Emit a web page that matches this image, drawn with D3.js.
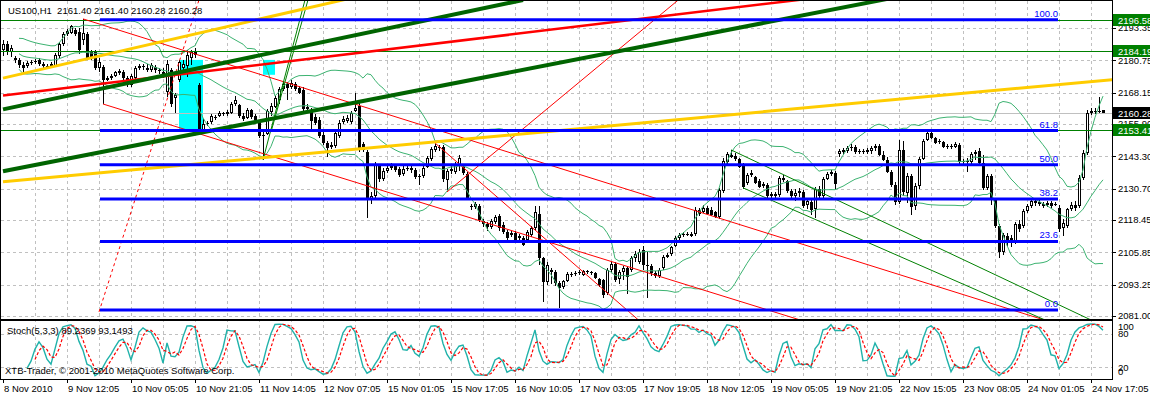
<!DOCTYPE html>
<html>
<head>
<meta charset="utf-8">
<script src="https://cdn.jsdelivr.net/npm/d3@7"></script>
<style>
body { margin: 0; background: #fff; }
svg { display: block; font-family: "Liberation Sans", Arial, sans-serif; font-size: 9.5px; }
</style>
</head>
<body>
<script>
// US100,H1 candles, one per hour, oldest first
var open = [
 2184.8,2187.1,2184.0,2181.7,2180.9,2178.9,2178.6,2179.7,2180.1,2180.9,
 2179.3,2178.6,2178.6,2178.6,2182.5,2187.1,2191.0,2191.4,2192.6,2191.8,
 2188.7,2191.0,2184.0,2184.0,2177.8,2178.2,2173.1,2173.9,2174.7,2175.8,
 2176.2,2173.9,2171.1,2173.9,2177.8,2178.6,2177.8,2177.0,2178.2,2177.0,
 2176.2,2168.4,2177.0,2166.1,2173.1,2177.8,2178.6,2181.7,2184.0,2171.1,
 2153.6,2155.9,2156.7,2158.7,2159.1,2160.2,2159.8,2160.2,2163.7,2163.3,
 2159.1,2158.3,2161.4,2159.1,2157.1,2151.3,2152.0,2160.6,2162.6,2165.3,
 2169.6,2171.5,2170.4,2171.5,2170.0,2169.2,2161.8,2161.4,2158.7,2157.5,
 2151.7,2148.5,2147.0,2147.4,2151.3,2156.7,2157.1,2156.7,2161.0,2162.9,
 2148.1,2145.0,2126.3,2127.9,2139.6,2134.5,2137.6,2138.8,2139.6,2138.4,
 2136.5,2138.4,2138.8,2138.0,2135.3,2135.7,2139.2,2142.3,2145.8,2147.0,
 2147.0,2134.1,2137.6,2137.2,2139.9,2139.2,2136.5,2124.0,2123.6,2124.0,
 2118.1,2116.9,2115.8,2117.7,2120.0,2116.6,2113.8,2112.7,2113.4,2111.5,
 2111.5,2110.7,2112.7,2115.4,2120.8,2103.7,2094.3,2099.0,2098.2,2093.9,
 2092.4,2094.7,2097.0,2097.4,2097.8,2097.0,2098.6,2098.2,2097.8,2095.5,
 2095.1,2090.0,2099.0,2101.3,2095.5,2098.2,2099.8,2099.0,2103.7,2102.1,
 2106.8,2101.0,2100.6,2097.8,2096.7,2099.8,2104.1,2105.2,2108.4,2111.5,
 2112.7,2113.0,2113.0,2113.0,2122.4,2121.6,2123.2,2122.4,2121.6,2119.7,
 2129.8,2141.1,2143.9,2143.5,2142.3,2140.0,2132.9,2136.1,2135.3,2133.7,
 2131.8,2132.2,2127.9,2128.6,2128.2,2134.9,2133.7,2129.8,2127.9,2129.0,
 2129.4,2124.3,2125.5,2122.8,2130.6,2127.9,2134.5,2136.5,2136.8,2144.2,
 2145.0,2145.4,2146.6,2147.0,2145.0,2145.4,2145.0,2145.4,2146.6,2147.4,
 2143.9,2141.9,2137.2,2132.2,2125.5,2145.8,2129.0,2135.7,2124.0,2131.8,
 2142.3,2149.7,2152.4,2150.5,2148.9,2148.9,2147.0,2147.4,2147.0,2147.7,
 2141.1,2141.5,2141.1,2144.2,2145.4,2140.7,2131.0,2135.7,2126.3,2116.2,
 2106.0,2112.3,2111.5,2109.9,2116.9,2116.2,2122.0,2123.9,2125.9,2125.5,
 2124.7,2124.3,2125.1,2124.3,2123.2,2115.4,2116.2,2122.8,2124.3,2124.0,
 2134.9,2144.6,2160.2,2161.0,2160.6,2161.40
]
var high = [
 2188.7,2188.3,2186.7,2182.5,2181.7,2180.1,2180.5,2180.9,2181.3,2181.7,
 2180.1,2179.3,2180.1,2183.6,2187.9,2191.8,2193.0,2194.6,2193.4,2193.4,
 2196.9,2191.8,2184.8,2184.8,2181.7,2178.9,2174.7,2175.4,2176.6,2177.4,
 2177.0,2174.7,2175.4,2178.6,2179.3,2179.3,2179.3,2179.7,2178.9,2177.8,
 2177.8,2180.9,2177.8,2168.0,2180.9,2180.9,2184.8,2184.8,2185.6,2171.9,
 2157.9,2157.1,2159.8,2159.5,2161.0,2160.6,2161.4,2164.5,2166.9,2163.7,
 2160.2,2162.2,2161.8,2159.8,2157.5,2152.8,2161.8,2164.1,2166.9,2170.4,
 2172.7,2172.3,2173.1,2172.3,2170.8,2170.4,2163.7,2162.2,2159.8,2158.7,
 2152.8,2149.3,2148.9,2153.2,2157.5,2159.1,2159.5,2161.0,2168.0,2164.1,
 2148.9,2145.8,2129.4,2141.1,2140.0,2138.8,2140.0,2140.7,2140.3,2139.2,
 2139.6,2139.6,2139.6,2138.8,2136.5,2139.6,2143.5,2147.0,2148.5,2147.8,
 2147.8,2138.4,2139.6,2141.1,2143.9,2139.9,2137.2,2124.7,2125.5,2124.7,
 2118.9,2117.7,2118.9,2120.4,2120.8,2117.7,2114.6,2114.2,2114.2,2113.0,
 2112.3,2114.6,2116.2,2124.0,2124.0,2104.1,2102.1,2099.8,2099.0,2094.7,
 2095.1,2098.2,2098.2,2098.6,2099.0,2099.0,2099.0,2098.6,2098.2,2095.9,
 2095.5,2099.8,2102.1,2102.1,2099.0,2100.6,2100.6,2104.5,2106.4,2107.2,
 2108.4,2106.0,2101.3,2098.6,2099.8,2104.9,2105.6,2108.4,2112.3,2113.4,
 2113.8,2113.8,2113.8,2123.6,2123.2,2124.3,2124.0,2123.6,2122.0,2131.0,
 2142.7,2145.0,2145.8,2144.6,2142.7,2140.7,2136.8,2138.0,2135.7,2134.5,
 2133.3,2132.9,2129.4,2129.4,2135.7,2136.1,2134.1,2130.6,2130.6,2131.0,
 2130.2,2126.7,2126.3,2131.4,2131.8,2135.3,2137.2,2138.0,2137.6,2146.2,
 2146.6,2147.4,2148.1,2147.8,2146.2,2146.2,2146.6,2147.4,2148.1,2148.1,
 2145.4,2143.1,2138.0,2133.3,2149.7,2149.3,2136.8,2136.5,2132.9,2143.1,
 2150.1,2154.0,2153.2,2150.9,2150.1,2149.3,2148.1,2148.1,2148.9,2148.5,
 2142.3,2142.7,2145.0,2145.8,2146.6,2143.9,2136.5,2136.5,2127.1,2116.9,
 2113.4,2113.4,2112.7,2117.7,2118.5,2122.8,2124.7,2126.7,2126.7,2126.3,
 2125.5,2125.9,2125.9,2125.5,2124.3,2118.9,2123.0,2125.5,2125.9,2136.1,
 2145.8,2161.4,2162.2,2162.2,2166.5,2161.40
]
var low = [
 2182.5,2182.8,2182.1,2179.7,2177.8,2176.2,2177.8,2178.9,2179.3,2178.6,
 2177.8,2177.8,2178.2,2178.2,2181.7,2186.4,2190.3,2191.0,2190.3,2183.2,
 2186.7,2180.9,2180.9,2177.0,2176.2,2163.7,2172.7,2173.1,2174.3,2175.0,
 2173.1,2170.4,2170.4,2173.5,2177.0,2177.0,2176.2,2176.2,2175.8,2175.4,
 2173.9,2166.5,2162.6,2160.2,2172.3,2177.0,2174.3,2179.0,2181.7,2152.0,
 2152.4,2155.2,2155.9,2157.5,2158.7,2159.1,2159.1,2159.8,2162.9,2158.3,
 2157.1,2157.9,2157.9,2156.7,2150.5,2141.9,2151.7,2159.1,2162.2,2163.7,
 2168.8,2165.3,2169.6,2168.8,2167.6,2160.6,2160.2,2153.6,2155.5,2150.5,
 2147.7,2143.1,2146.2,2146.6,2150.5,2155.9,2156.3,2155.9,2160.6,2145.0,
 2145.0,2119.3,2124.7,2126.7,2133.3,2133.7,2136.8,2138.0,2137.2,2135.3,
 2135.7,2137.6,2136.8,2134.5,2132.2,2134.9,2138.8,2141.5,2145.0,2145.4,
 2133.3,2130.2,2136.5,2136.5,2137.6,2136.1,2126.3,2122.4,2122.8,2117.7,
 2115.8,2114.2,2115.0,2116.9,2114.2,2113.0,2110.7,2111.9,2109.9,2110.7,
 2108.4,2109.9,2111.9,2114.6,2101.0,2086.5,2093.2,2093.5,2092.8,2084.2,
 2091.6,2094.3,2096.3,2096.7,2097.0,2096.7,2097.4,2097.0,2095.5,2092.4,
 2088.1,2089.3,2098.2,2094.3,2093.5,2095.1,2089.7,2098.2,2102.1,2101.3,
 2099.0,2088.1,2096.7,2095.9,2095.9,2099.0,2103.7,2104.5,2108.0,2110.7,
 2111.9,2112.3,2111.9,2112.3,2120.0,2121.2,2120.4,2120.0,2119.3,2118.9,
 2129.0,2140.3,2142.7,2141.5,2138.8,2130.6,2132.2,2135.3,2132.5,2131.0,
 2131.0,2127.1,2127.1,2127.1,2127.5,2133.3,2129.0,2127.1,2125.9,2127.5,
 2123.2,2122.8,2120.4,2119.3,2126.7,2127.1,2134.1,2135.7,2130.2,2143.1,
 2143.9,2144.6,2145.4,2144.2,2144.2,2144.2,2144.2,2144.2,2145.4,2143.5,
 2141.5,2136.8,2131.4,2124.3,2124.7,2127.9,2125.1,2120.4,2122.4,2130.6,
 2141.9,2149.3,2150.1,2148.1,2148.1,2146.6,2146.2,2146.2,2146.6,2140.3,
 2140.3,2137.2,2140.3,2141.9,2139.9,2130.2,2130.2,2124.3,2115.4,2103.7,
 2104.9,2108.4,2108.0,2109.1,2113.8,2115.4,2121.2,2123.2,2123.9,2123.9,
 2123.2,2123.6,2123.2,2123.9,2113.8,2112.3,2115.4,2122.0,2122.0,2123.2,
 2134.1,2143.9,2159.5,2159.8,2160.2,2160.28
]
var close = [
 2187.1,2184.0,2185.6,2180.9,2178.9,2177.8,2179.7,2180.1,2180.5,2179.3,
 2178.6,2178.5,2179.3,2182.8,2187.1,2191.0,2192.2,2194.2,2191.0,2184.8,
 2191.4,2181.7,2182.1,2177.8,2180.1,2173.1,2173.9,2174.7,2176.2,2176.6,
 2173.9,2171.1,2174.7,2177.8,2178.6,2178.2,2177.0,2178.9,2177.0,2176.6,
 2175.4,2179.3,2163.7,2167.2,2180.1,2179.3,2182.8,2184.0,2182.8,2153.6,
 2155.9,2156.3,2159.1,2158.3,2160.2,2159.8,2160.6,2163.7,2165.3,2159.1,
 2157.9,2161.4,2158.7,2157.5,2151.3,2151.7,2161.0,2163.0,2166.1,2169.6,
 2171.5,2170.0,2171.9,2169.6,2168.0,2161.8,2162.6,2157.1,2156.3,2151.3,
 2148.5,2146.6,2147.7,2152.4,2156.3,2157.9,2158.3,2160.2,2162.2,2146.2,
 2145.8,2126.7,2127.9,2140.3,2134.5,2137.6,2138.8,2139.6,2138.0,2136.1,
 2138.4,2138.8,2138.0,2135.3,2135.7,2138.8,2142.7,2146.2,2147.4,2146.6,
 2134.5,2137.6,2138.4,2140.3,2142.7,2136.8,2127.1,2123.6,2124.7,2118.5,
 2116.9,2115.8,2118.1,2119.7,2115.4,2113.8,2111.5,2113.4,2110.7,2112.3,
 2108.8,2113.8,2115.4,2121.6,2103.7,2094.3,2101.0,2098.2,2093.9,2092.0,
 2094.7,2097.4,2097.4,2097.8,2098.2,2098.6,2098.2,2097.8,2095.9,2093.2,
 2089.3,2099.0,2101.3,2095.1,2098.2,2099.8,2096.3,2103.7,2105.2,2106.0,
 2101.0,2100.6,2097.8,2096.7,2099.0,2104.1,2104.9,2108.0,2111.5,2112.7,
 2113.0,2113.1,2112.3,2122.4,2120.8,2123.2,2120.8,2120.4,2119.7,2130.2,
 2141.5,2144.2,2143.1,2142.3,2139.2,2131.4,2136.1,2136.8,2132.9,2131.4,
 2132.5,2127.9,2128.6,2127.9,2134.9,2134.1,2129.8,2127.9,2129.0,2129.8,
 2124.0,2125.9,2122.4,2130.6,2127.9,2134.5,2136.5,2137.2,2132.5,2145.4,
 2145.8,2146.6,2147.0,2145.0,2145.4,2145.0,2145.8,2146.6,2147.4,2143.9,
 2141.9,2137.2,2132.2,2125.5,2145.8,2129.4,2135.7,2123.6,2131.8,2142.3,
 2149.3,2152.4,2150.5,2148.5,2149.3,2147.0,2147.4,2147.0,2148.1,2141.1,
 2141.5,2141.1,2144.2,2145.0,2140.7,2131.0,2135.7,2126.3,2116.2,2106.0,
 2112.7,2110.7,2109.5,2116.9,2115.0,2122.0,2123.9,2125.9,2125.1,2124.7,
 2123.9,2125.1,2123.9,2124.7,2115.0,2117.3,2122.8,2124.3,2123.2,2134.9,
 2144.6,2160.2,2161.0,2160.6,2161.0,2160.28
]

var priceTicks = [2193.35, 2180.75, 2168.15, 2155.90, 2143.30, 2130.70, 2118.45, 2105.85, 2093.25, 2081.00]
var timeLabels = ['8 Nov 2010', '9 Nov 12:05', '10 Nov 05:05', '10 Nov 21:05', '11 Nov 14:05', '12 Nov 07:05',
  '15 Nov 01:05', '15 Nov 17:05', '16 Nov 10:05', '17 Nov 03:05', '17 Nov 19:05', '18 Nov 12:05',
  '19 Nov 05:05', '19 Nov 21:05', '22 Nov 15:05', '23 Nov 08:05', '24 Nov 01:05', '24 Nov 17:05']
var timeLabelBars = [0, 16, 32, 48, 64, 80, 96, 112, 128, 144, 160, 176, 192, 208, 224, 240, 256, 272]
var stochLevels = [100, 80, 20, 0]

// horizontal levels and price boxes on the right scale
var greenLevels = [2196.58, 2184.19, 2153.41]
var bidPrice = 2160.28

// fibonacci retracement
var fibLow = 2083.34, fibHigh = 2196.58
var fibBars = [24.25, 263.75]
var fibRatios = [0, 23.6, 38.2, 50.0, 61.8, 100.0]

// drawn trend lines, [bar, price] anchors
var goldUpper = [[0, 2173.8], [90, 2206.1]]
var goldLower = [[0, 2133.4], [280, 2173.6]]
var redThick = [[0, 2167.0], [200, 2204.5]]
var greenThick1 = [[0, 2161.6], [130, 2204.3]]
var greenThick2 = [[0, 2137.5], [225, 2205.9]]
var redChannelA = [[20, 2196.9], [260, 2079.6]]
var redChannelB = [[25, 2163.7], [200, 2079.1]]
var redSteep = [[108, 2148.5], [160, 2077.9]]
var redRising = [[111, 2129.4], [172, 2208.4]]
var fibTrend = [[24, 2082.6], [49, 2204.3]]
var greenSteep1 = [[65, 2141.9], [75.5, 2204.3]]
var greenSteep2 = [[67, 2152.8], [76.25, 2204.3]]
var greenChannel1 = [[182, 2145.8], [276, 2076.5]]
var greenChannel2 = [[185, 2131.0], [266, 2075.7]]

// rectangles [bar1, bar2, price1, price2]
var cyanBoxes = [[44, 50, 2180.9, 2153.6], [65, 68, 2180.9, 2175.1]]

var width = 1150, height = 396
var axisX = 1112
var mainBottom = 319, stochTop = 321, stochBottom = 379

var x = d3.scaleLinear().domain([0, 275]).range([3, 1103])
var y = d3.scaleLinear().domain([2081, 2193.35]).range([316, 28])
var ys = d3.scaleLinear().domain([0, 100]).range([378.8, 322.2])

var n = close.length

// Bollinger bands 20, 2
var bands = d3.range(n).map(i => {
    var w = close.slice(Math.max(0, i - 19), i + 1)
    if (w.length < 5) return null
    var m = d3.mean(w)
    var sd = Math.sqrt(d3.mean(w, v => (v - m) * (v - m)))
    return { i: i, mid: m, up: m + 2 * sd, lo: m - 2 * sd }
}).filter(d => d)

// Stochastic 5,3,3
var hh = [], ll = [], K = [], D = []
for (var i = 0; i < n; i++) {
    if (i >= 4) {
        hh[i] = d3.max(high.slice(i - 4, i + 1))
        ll[i] = d3.min(low.slice(i - 4, i + 1))
    }
    if (i >= 6) {
        var num = 0, den = 0
        for (var j = i - 2; j <= i; j++) { num += close[j] - ll[j]; den += hh[j] - ll[j] }
        K[i] = den ? 100 * num / den : 100
    }
    if (i >= 8) D[i] = (K[i] + K[i - 1] + K[i - 2]) / 3
}

var svg = d3.select('body').append('svg')
    .attr('width', width)
    .attr('height', height)

var defs = svg.append('defs')
defs.append('clipPath').attr('id', 'clipMain')
    .append('rect').attr('x', 1).attr('y', 1).attr('width', axisX - 1).attr('height', mainBottom - 1)
defs.append('clipPath').attr('id', 'clipStoch')
    .append('rect').attr('x', 1).attr('y', stochTop + 1).attr('width', axisX - 1).attr('height', stochBottom - stochTop - 1)

var grid = svg.append('g')
    .attr('stroke', '#c0c0c0')
    .attr('stroke-dasharray', '3,3')
    .attr('shape-rendering', 'crispEdges')

// vertical grid every 8 bars
grid.selectAll('line.v').data(d3.range(8, 280, 8)).join('line')
    .attr('x1', d => Math.round(x(d)) + 0.5).attr('x2', d => Math.round(x(d)) + 0.5)
    .attr('y1', 1).attr('y2', stochBottom)
grid.selectAll('line.h').data(priceTicks).join('line')
    .attr('x1', 1).attr('x2', axisX)
    .attr('y1', d => Math.round(y(d)) + 0.5).attr('y2', d => Math.round(y(d)) + 0.5)
grid.selectAll('line.s').data([80, 20]).join('line')
    .attr('x1', 1).attr('x2', axisX)
    .attr('y1', d => Math.round(ys(d)) + 0.5).attr('y2', d => Math.round(ys(d)) + 0.5)

var main = svg.append('g').attr('clip-path', 'url(#clipMain)')

main.selectAll('rect.box').data(cyanBoxes).join('rect')
    .attr('x', d => x(d[0])).attr('width', d => x(d[1]) - x(d[0]))
    .attr('y', d => y(d[2])).attr('height', d => y(d[3]) - y(d[2]))
    .attr('fill', '#00ffff')

// bid line
main.append('line')
    .attr('x1', 0).attr('x2', axisX)
    .attr('y1', Math.round(y(bidPrice)) + 0.5).attr('y2', Math.round(y(bidPrice)) + 0.5)
    .attr('stroke', '#c0c0c0')

// candles
var candles = d3.range(n).map(i => ({ i: i, o: open[i], h: high[i], l: low[i], c: close[i] }))
var cg = main.append('g').attr('shape-rendering', 'crispEdges')
cg.selectAll('line').data(candles).join('line')
    .attr('x1', d => Math.round(x(d.i)) + 0.5).attr('x2', d => Math.round(x(d.i)) + 0.5)
    .attr('y1', d => y(Math.max(d.h, d.o, d.c))).attr('y2', d => y(Math.min(d.l, d.o, d.c)))
    .attr('stroke', '#000')
cg.selectAll('rect').data(candles).join('rect')
    .each(function(d) {
        var cx = Math.round(x(d.i))
        var top = y(Math.max(d.o, d.c)), bot = y(Math.min(d.o, d.c))
        var r = d3.select(this)
        if (d.c > d.o && bot - top >= 2) {
            r.attr('x', cx - 0.5).attr('width', 2)
             .attr('y', top + 0.5).attr('height', bot - top - 1)
             .attr('fill', '#fff').attr('stroke', '#000')
        } else {
            r.attr('x', cx - 1).attr('width', 3)
             .attr('y', top).attr('height', Math.max(1, bot - top))
             .attr('fill', '#000')
        }
    })

// Bollinger bands
var bbColor = '#3cb371'
;['up', 'mid', 'lo'].forEach(k => {
    main.append('path')
        .datum(bands)
        .attr('fill', 'none')
        .attr('stroke', bbColor)
        .attr('stroke-width', 1)
        .attr('d', d3.line().x(d => x(d.i)).y(d => y(d[k])))
})

// horizontal green levels
main.selectAll('line.lvl').data(greenLevels).join('line')
    .attr('x1', 0).attr('x2', axisX)
    .attr('y1', d => Math.round(y(d)) + 0.5).attr('y2', d => Math.round(y(d)) + 0.5)
    .attr('stroke', '#008000')

// trend lines
function trend(pts, color, w, dash) {
    main.append('line')
        .attr('x1', x(pts[0][0])).attr('y1', y(pts[0][1]))
        .attr('x2', x(pts[1][0])).attr('y2', y(pts[1][1]))
        .attr('stroke', color)
        .attr('stroke-width', w)
        .attr('stroke-dasharray', dash || null)
}
trend(redChannelA, '#ff0000', 1)
trend(redChannelB, '#ff0000', 1)
trend(redSteep, '#ff0000', 1)
trend(redRising, '#ff0000', 1)
trend(fibTrend, '#ff0000', 1, '3,3')
trend(greenSteep1, '#008000', 1)
trend(greenSteep2, '#008000', 1)
trend(greenChannel1, '#008000', 1)
trend(greenChannel2, '#008000', 1)
trend(goldUpper, '#ffcc00', 3)
trend(goldLower, '#ffcc00', 3)
trend(redThick, '#ff0000', 2.5)
trend(greenThick1, '#006400', 4)
trend(greenThick2, '#006400', 4)

// fibonacci levels
var fib = main.append('g')
fib.selectAll('line').data(fibRatios).join('line')
    .attr('x1', x(fibBars[0])).attr('x2', x(fibBars[1]))
    .attr('y1', d => y(fibLow + (fibHigh - fibLow) * d / 100))
    .attr('y2', d => y(fibLow + (fibHigh - fibLow) * d / 100))
    .attr('stroke', '#0000ff')
    .attr('stroke-width', 3)
fib.selectAll('text').data(fibRatios).join('text')
    .attr('x', x(fibBars[1]))
    .attr('y', d => y(fibLow + (fibHigh - fibLow) * d / 100) - 3)
    .attr('text-anchor', 'end')
    .attr('fill', '#0000ff')
    .text(d => d.toFixed(1))

// stochastic panel
var st = svg.append('g').attr('clip-path', 'url(#clipStoch)')
var kPts = d3.range(n).filter(i => K[i] !== undefined)
var dPts = d3.range(n).filter(i => D[i] !== undefined)
st.append('path')
    .attr('fill', 'none').attr('stroke', '#20b2aa').attr('stroke-width', 1.4)
    .attr('d', d3.line().x(i => x(i)).y(i => ys(K[i]))(kPts))
st.append('path')
    .attr('fill', 'none').attr('stroke', '#ff0000').attr('stroke-width', 1.2)
    .attr('stroke-dasharray', '3,2')
    .attr('d', d3.line().x(i => x(i)).y(i => ys(D[i]))(dPts))

// frame
var frame = svg.append('g').attr('stroke', '#000').attr('shape-rendering', 'crispEdges')
frame.append('line').attr('x1', 0.5).attr('x2', 0.5).attr('y1', 0).attr('y2', stochBottom + 0.5)
frame.append('line').attr('x1', 0).attr('x2', axisX).attr('y1', 0.5).attr('y2', 0.5)
frame.append('line').attr('x1', axisX + 0.5).attr('x2', axisX + 0.5).attr('y1', 0).attr('y2', stochBottom + 0.5)
frame.append('rect').attr('x', 0).attr('y', mainBottom).attr('width', axisX + 1).attr('height', 2).attr('stroke', 'none').attr('fill', '#000')
frame.append('line').attr('x1', 0).attr('x2', axisX + 1).attr('y1', stochBottom + 0.5).attr('y2', stochBottom + 0.5)

// right price axis
var ax = svg.append('g')
ax.selectAll('line').data(priceTicks).join('line')
    .attr('x1', axisX).attr('x2', axisX + 4)
    .attr('y1', d => Math.round(y(d)) + 0.5).attr('y2', d => Math.round(y(d)) + 0.5)
    .attr('stroke', '#000').attr('shape-rendering', 'crispEdges')
ax.selectAll('text').data(priceTicks).join('text')
    .attr('x', axisX + 6).attr('y', d => y(d)).attr('dy', '0.35em')
    .text(d => d.toFixed(2))

// stochastic scale
ax.selectAll('text.st').data(stochLevels).join('text')
    .attr('x', axisX + 6)
    .attr('y', d => Math.min(Math.max(ys(d), 327), 371.5)).attr('dy', '0.35em')
    .text(d => d)

// price boxes
var boxes = greenLevels.map(v => ({ v: v, fill: '#008000' })).concat([{ v: bidPrice, fill: '#000' }])
var pb = ax.selectAll('g.pb').data(boxes).join('g')
pb.append('rect')
    .attr('x', axisX + 1).attr('width', width - axisX)
    .attr('y', d => Math.round(y(d.v)) - 6).attr('height', 12)
    .attr('fill', d => d.fill)
pb.append('text')
    .attr('x', axisX + 6).attr('y', d => Math.round(y(d.v)) + 0.5).attr('dy', '0.35em')
    .attr('fill', '#fff')
    .text(d => d.v.toFixed(2))

// time axis
var tx = svg.append('g')
tx.selectAll('line').data(timeLabelBars).join('line')
    .attr('x1', d => Math.round(x(d)) + 0.5).attr('x2', d => Math.round(x(d)) + 0.5)
    .attr('y1', stochBottom).attr('y2', stochBottom + 4)
    .attr('stroke', '#000').attr('shape-rendering', 'crispEdges')
tx.selectAll('text').data(timeLabelBars).join('text')
    .attr('x', d => Math.round(x(d)) + 1).attr('y', 389).attr('dy', '0.35em')
    .text((d, i) => timeLabels[i])

// captions
svg.append('text').attr('x', 8).attr('y', 11).attr('dy', '0.35em')
    .style('white-space', 'pre')
    .text('US100,H1  2161.40 2161.40 2160.28 2160.28')
svg.append('text').attr('x', 7).attr('y', 331).attr('dy', '0.35em')
    .text('Stoch(5,3,3) 89.2369 93.1493')
svg.append('text').attr('x', 5).attr('y', 371).attr('dy', '0.35em')
    .text('XTB-Trader, \u00a9 2001-2010 MetaQuotes Software Corp.')
</script>
</body>
</html>
